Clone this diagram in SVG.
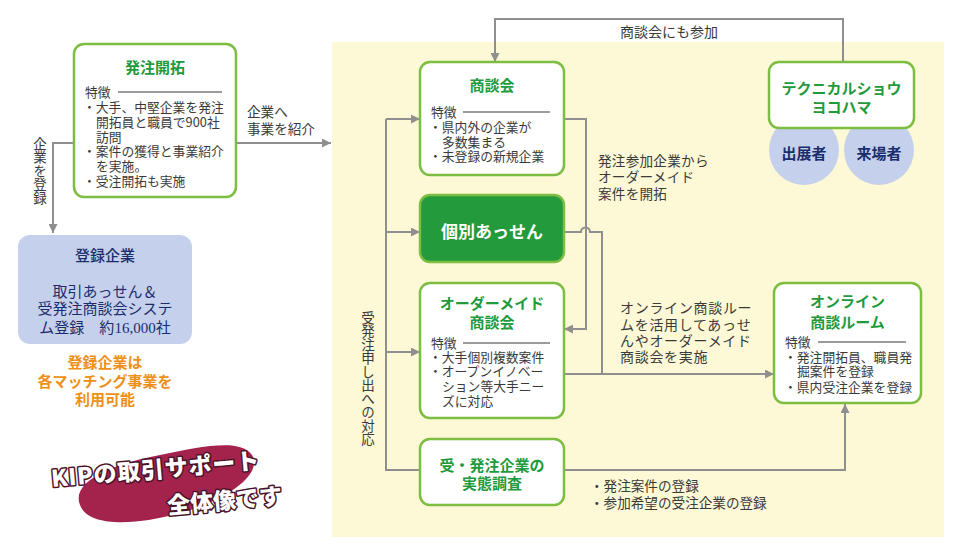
<svg xmlns="http://www.w3.org/2000/svg" width="960" height="549" viewBox="0 0 960 549">
<style>
text{font-family:"Noto Sans CJK JP","Noto Sans",sans-serif}
.box{fill:#fff;stroke:#7cbd42;stroke-width:2.5}
.ttl{font-size:15px;font-weight:bold;fill:#1f9a3d;text-anchor:middle}
.t{font-size:12.8px;fill:#3a3a3a}
.lbl{font-size:13.6px;fill:#3a3a3a}
.navy{font-size:15px;fill:#1b2d6b;text-anchor:middle}
.org{font-size:15px;font-weight:bold;fill:#ee9018;text-anchor:middle}
.cir{fill:#c5d1ec}
.ln{fill:none;stroke:#8f8f8f;stroke-width:2}
.ul{stroke:#3a3a3a;stroke-width:1.2}
.kip{font-size:23px;font-weight:900;fill:#fff;stroke:#4a1428;stroke-width:3;paint-order:stroke;stroke-linejoin:round}
</style>
<defs>
<marker id="ah" viewBox="0 0 10 10" refX="10" refY="5" markerWidth="9" markerHeight="9" markerUnits="userSpaceOnUse" orient="auto">
<path d="M0,0 L10,5 L0,10 z" fill="#8f8f8f"/>
</marker>
</defs>
<rect x="0" y="0" width="960" height="549" fill="#fff"/>
<rect x="332" y="42" width="612" height="495" fill="#fdf8d5"/>

<g id="connectors">
<path class="ln" d="M843,62 V19 H495 V62" marker-end="url(#ah)"/>
<path class="ln" d="M236,143 H331" marker-end="url(#ah)"/>
<path class="ln" d="M74,143 H53 V233" marker-end="url(#ah)"/>
<path class="ln" d="M386,119 V470 H420"/>
<path class="ln" d="M386,119 H420" marker-end="url(#ah)"/>
<path class="ln" d="M386,232 H420" marker-end="url(#ah)"/>
<path class="ln" d="M386,352 H420" marker-end="url(#ah)"/>
<path class="ln" d="M564,119 H586 V329 H564" marker-end="url(#ah)"/>
<path class="ln" d="M564,232 H581 A4.5,4.5 0 0 1 590,232 H602 V374"/>
<path class="ln" d="M564,374 H774" marker-end="url(#ah)"/>
<path class="ln" d="M564,470 H845 V404" marker-end="url(#ah)"/>
<text class="lbl" x="247" y="117">企業へ</text>
<text class="lbl" x="247" y="134">事業を紹介</text>
<text class="lbl" x="40" y="137" writing-mode="vertical-rl" style="font-size:13.5px">企業を登録</text>
<text class="lbl" x="620" y="36.5" style="font-size:14px">商談会にも参加</text>
<text class="lbl" x="598" y="166" style="letter-spacing:0.25px">発注参加企業から</text>
<text class="lbl" x="598" y="182" style="letter-spacing:0.25px">オーダーメイド</text>
<text class="lbl" x="598" y="199" style="letter-spacing:0.25px">案件を開拓</text>
<text class="lbl" x="620" y="313" style="font-size:14px;letter-spacing:0.7px">オンライン商談ルー</text>
<text class="lbl" x="620" y="330" style="font-size:14px;letter-spacing:0.7px">ムを活用してあっせ</text>
<text class="lbl" x="620" y="346" style="font-size:14px;letter-spacing:0.7px">んやオーダーメイド</text>
<text class="lbl" x="620" y="362" style="font-size:14px;letter-spacing:0.7px">商談会を実施</text>
<text class="lbl" x="368" y="311" writing-mode="vertical-rl" style="font-size:13.5px">受発注申し出への対応</text>
<text class="lbl" x="590" y="491">・発注案件の登録</text>
<text class="lbl" x="590" y="508">・参加希望の受注企業の登録</text>
</g>

<g id="hacchu-kaitaku">
<rect class="box" x="74" y="44" width="162" height="153" rx="10"/>
<text class="ttl" x="155" y="73">発注開拓</text>
<text class="t" x="85" y="96.5">特徴</text>
<line class="ul" x1="118" y1="92" x2="222" y2="92"/>
<text class="t" x="83" y="112">・大手、中堅企業を発注</text>
<text class="t" x="96" y="126.5">開拓員と職員で900社</text>
<text class="t" x="96" y="141.5">訪問</text>
<text class="t" x="83" y="156">・案件の獲得と事業紹介</text>
<text class="t" x="96" y="170.5">を実施。</text>
<text class="t" x="83" y="185.5">・受注開拓も実施</text>
</g>

<g id="toroku-kigyo">
<rect x="18" y="235" width="174" height="109" rx="12" fill="#c5d1ec"/>
<text class="navy" x="105" y="260.5" style="font-weight:500">登録企業</text>
<text class="navy" x="105" y="297">取引あっせん＆</text>
<text class="navy" x="105" y="313.5">受発注商談会システ</text>
<text class="navy" x="105" y="332.5">ム登録　約<tspan style="font-family:'Liberation Serif',serif">16,000</tspan>社</text>
<text class="org" x="105" y="368">登録企業は</text>
<text class="org" x="105" y="387">各マッチング事業を</text>
<text class="org" x="105" y="405">利用可能</text>
</g>

<g id="kip-badge">
<path d="M80,505 C70,480 118,463 160,455 C200,447 240,438 252,455 C264,476 222,502 180,513 C138,525 88,528 80,505 Z" fill="#a3234d"/>
<text class="kip" x="52" y="487" transform="rotate(-5 52 487)" style="letter-spacing:0.8px">KIPの取引サポート</text>
<text class="kip" x="168" y="514" transform="rotate(-5 168 514)">全体像です</text>
</g>

<g id="shodankai">
<rect class="box" x="420" y="62" width="144" height="113" rx="10"/>
<text class="ttl" x="492" y="91">商談会</text>
<text class="t" x="431" y="116.5">特徴</text>
<line class="ul" x1="463" y1="112" x2="550" y2="112"/>
<text class="t" x="429" y="131.5">・県内外の企業が</text>
<text class="t" x="442" y="146.5">多数集まる</text>
<text class="t" x="429" y="160.5">・未登録の新規企業</text>
</g>

<g id="kobetsu-assen">
<rect x="420" y="195" width="144" height="67" rx="10" fill="#239a3b" stroke="#7cbd42" stroke-width="2.5"/>
<text x="492" y="238" style="font-size:17px;font-weight:bold;fill:#fff;text-anchor:middle">個別あっせん</text>
</g>

<g id="ordermade">
<rect class="box" x="420" y="283" width="144" height="135" rx="10"/>
<text class="ttl" x="492" y="308.5">オーダーメイド</text>
<text class="ttl" x="492" y="327.5">商談会</text>
<text class="t" x="431" y="347.5">特徴</text>
<line class="ul" x1="463" y1="343" x2="550" y2="343"/>
<text class="t" x="429" y="361.5">・大手個別複数案件</text>
<text class="t" x="429" y="375.5">・オープンイノベー</text>
<text class="t" x="442" y="390.5">ション等大手ニー</text>
<text class="t" x="442" y="406">ズに対応</text>
</g>

<g id="jittai-chosa">
<rect class="box" x="420" y="439" width="144" height="66" rx="10"/>
<text class="ttl" x="492" y="471">受・発注企業の</text>
<text class="ttl" x="492" y="488.5">実態調査</text>
</g>

<g id="technical-show">
<circle class="cir" cx="804" cy="150" r="35"/>
<circle class="cir" cx="879" cy="150" r="35"/>
<rect class="box" x="769" y="62" width="145" height="66" rx="10"/>
<text class="ttl" x="841.5" y="94">テクニカルショウ</text>
<text class="ttl" x="841.5" y="112.5">ヨコハマ</text>
<text class="navy" x="804" y="159" style="font-weight:bold">出展者</text>
<text class="navy" x="879" y="159" style="font-weight:bold">来場者</text>
</g>

<g id="online-room">
<rect class="box" x="774" y="283" width="147" height="120" rx="10"/>
<text class="ttl" x="847.5" y="307">オンライン</text>
<text class="ttl" x="847.5" y="327.5">商談ルーム</text>
<text class="t" x="785" y="346.5">特徴</text>
<line class="ul" x1="818" y1="342" x2="906" y2="342"/>
<text class="t" x="784" y="361.5">・発注開拓員、職員発</text>
<text class="t" x="797" y="376">掘案件を登録</text>
<text class="t" x="784" y="391.5">・県内受注企業を登録</text>
</g>
</svg>
